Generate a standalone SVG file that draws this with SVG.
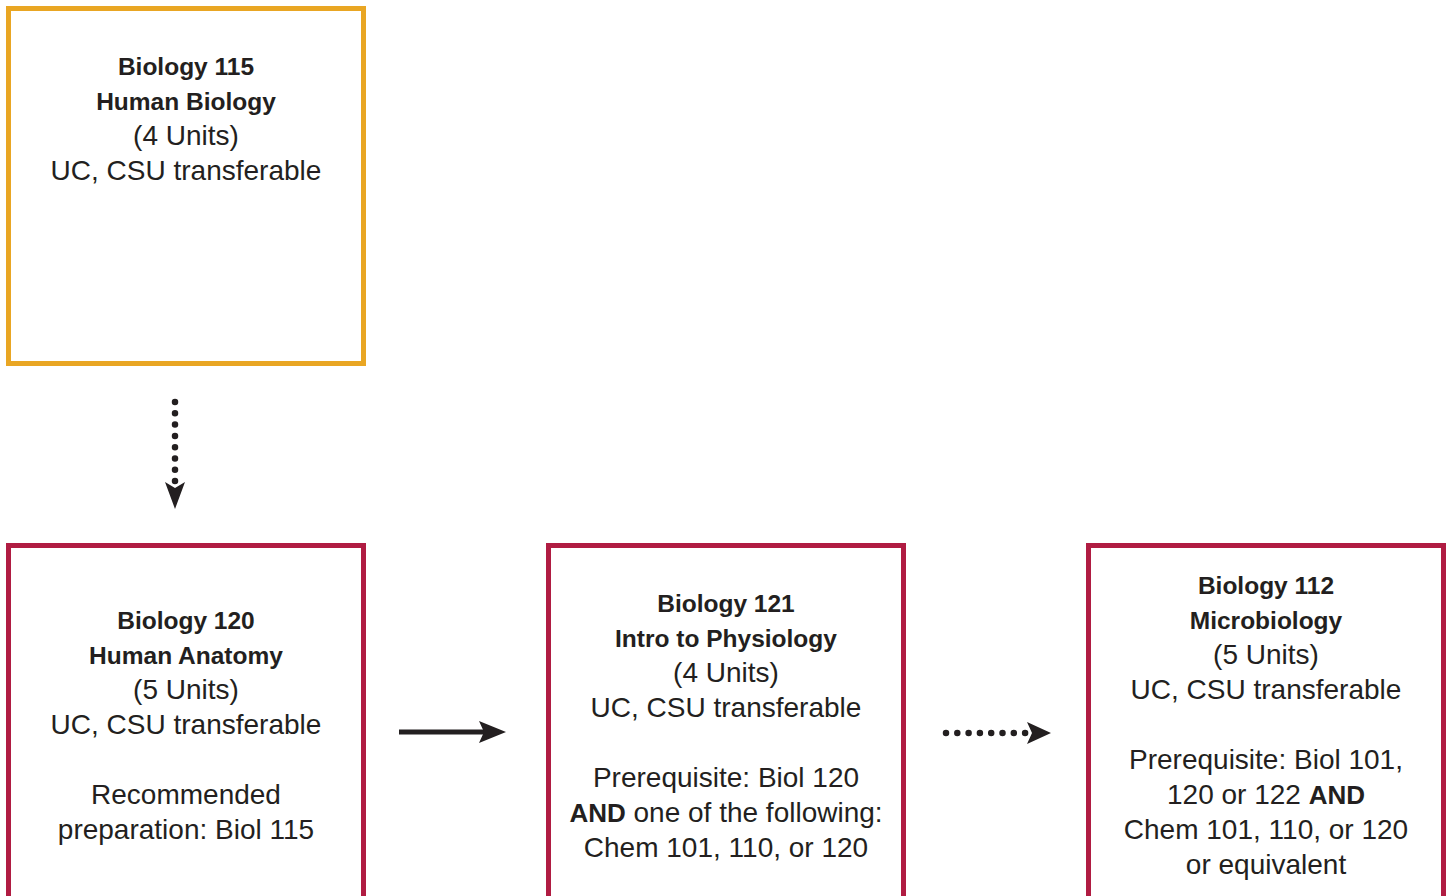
<svg xmlns="http://www.w3.org/2000/svg" width="1447" height="896" viewBox="0 0 1447 896">
<style>
.box{fill:#fff;stroke-width:5}
.y{stroke:#e9a623}
.r{stroke:#b01c42}
text{font-family:"Liberation Sans",Arial,sans-serif;font-size:28px;fill:#231f20;text-anchor:middle}
.b{font-weight:bold;font-size:24.5px}
.ln{stroke:#231f20;stroke-width:5;fill:none}
.dot{stroke:#231f20;stroke-width:6.5;fill:none;stroke-linecap:round;stroke-dasharray:0 11.3}
.head{fill:#231f20}
</style>
<rect width="1447" height="896" fill="#fff"/>
<g id="biol115">
<rect class="box y" x="8.5" y="8.5" width="355" height="355"/>
<text x="186" y="75" class="b">Biology 115</text>
<text x="186" y="110" class="b">Human Biology</text>
<text x="186" y="145">(4 Units)</text>
<text x="186" y="180">UC, CSU transferable</text>
</g>
<g id="biol120">
<rect class="box r" x="8.5" y="545.5" width="355" height="360"/>
<text x="186" y="629" class="b">Biology 120</text>
<text x="186" y="664" class="b">Human Anatomy</text>
<text x="186" y="699">(5 Units)</text>
<text x="186" y="734">UC, CSU transferable</text>
<text x="186" y="804">Recommended</text>
<text x="186" y="839">preparation: Biol 115</text>
</g>
<g id="biol121">
<rect class="box r" x="548.5" y="545.5" width="355" height="360"/>
<text x="726" y="612" class="b">Biology 121</text>
<text x="726" y="647" class="b">Intro to Physiology</text>
<text x="726" y="682">(4 Units)</text>
<text x="726" y="717">UC, CSU transferable</text>
<text x="726" y="787">Prerequisite: Biol 120</text>
<text x="726" y="822"><tspan class="b" style="font-size:26px">AND</tspan> one of the following:</text>
<text x="726" y="857">Chem 101, 110, or 120</text>
</g>
<g id="biol112">
<rect class="box r" x="1088.5" y="545.5" width="355" height="360"/>
<text x="1266" y="594" class="b">Biology 112</text>
<text x="1266" y="629" class="b">Microbiology</text>
<text x="1266" y="664">(5 Units)</text>
<text x="1266" y="699">UC, CSU transferable</text>
<text x="1266" y="769">Prerequisite: Biol 101,</text>
<text x="1266" y="804">120 or 122 <tspan class="b" style="font-size:26px">AND</tspan></text>
<text x="1266" y="839">Chem 101, 110, or 120</text>
<text x="1266" y="874">or equivalent</text>
</g>
<g id="connectors">
<path class="dot" d="M175 402 V492"/>
<path class="head" d="M165 482 L175 488 L185 482 L175 509 Z"/>
<path class="ln" d="M399 732 H492"/>
<path class="head" d="M479 721 L506 732 L479 743 L484 732 Z"/>
<path class="dot" d="M946 733 H1031"/>
<path class="head" d="M1027 722 L1051 733 L1027 744 L1032 733 Z"/>
</g>
</svg>
